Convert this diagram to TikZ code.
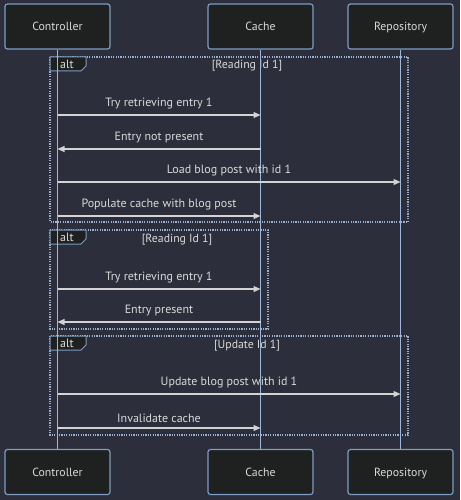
\documentclass[tikz,border=0pt]{standalone}
\usepackage{fontspec}
\setmainfont{PT Sans}
\usetikzlibrary{arrows.meta}
\definecolor{bg}{HTML}{2C2F3B}
\definecolor{boxfill}{HTML}{1F2020}
\definecolor{boxline}{HTML}{7E9CC4}
\definecolor{lifeline}{HTML}{9DB8DC}
\definecolor{txt}{HTML}{D9D9D9}
\definecolor{msgline}{HTML}{D3D3D3}
\definecolor{framecol}{HTML}{9AB0CC}
\begin{document}
\begin{tikzpicture}[x=1pt,y=-1pt,
  actor/.style={draw=boxline,fill=boxfill,line width=1.2pt,rounded corners=2.5pt,
    minimum width=105pt,minimum height=45pt,inner sep=0pt,text=txt,
    text height=8.5pt,text depth=0pt,font=\fontsize{11.8}{13}\selectfont},
  life/.style={draw=lifeline,line width=1.1pt},
  msg/.style={draw=msgline,line width=1.1pt,-{Triangle[length=7pt,width=6pt]}},
  msglabel/.style={text=txt,font=\fontsize{12}{13}\selectfont,inner sep=0pt},
  frame/.style={draw=framecol,line width=1.1pt,dash pattern=on 1.2pt off 1.2pt},
  tab/.style={draw=boxline,fill=boxfill,line width=1pt},
  tablabel/.style={text=txt,font=\fontsize{12}{13}\selectfont,inner sep=0pt},
  cond/.style={text=txt,font=\fontsize{11.8}{13}\selectfont,inner sep=0pt}]
\fill[bg] (0,0) rectangle (460,500);
\useasboundingbox (0,0) rectangle (460,500);
% actors
\node[actor] (c1) at (57.5,26.5) {Controller};
\node[actor] (k1) at (260.5,26.5) {Cache};
\node[actor] (r1) at (400.5,26.5) {Repository};
\node[actor] (c2) at (57.5,472) {Controller};
\node[actor] (k2) at (260.5,472) {Cache};
\node[actor] (r2) at (400.5,472) {Repository};
% row coordinates
\path (0,115) coordinate (y1) (0,149) coordinate (y2) (0,182) coordinate (y3) (0,216) coordinate (y4)
      (0,289) coordinate (y5) (0,322) coordinate (y6) (0,394) coordinate (y7) (0,428) coordinate (y8);
% frames
\draw[frame] (50,57) rectangle (408,222);
\draw[frame] (50,230) rectangle (268,329);
\draw[frame] (50,336) rectangle (408,435);
\foreach \t/\n in {57/a,230/b,336/c}{
  \draw[tab] (50,\t) -- (86,\t) -- (86,\t+9) -- (81,\t+14) -- (50,\t+14) -- cycle;
  \node[tablabel] (tab\n) at (67,\t+7) {alt};
}
\node[cond] (cond1) at (247,66) {[Reading Id 1]};
\node[cond] (cond2) at (177,240) {[Reading Id 1]};
\node[cond] (cond3) at (247,346) {[Update Id 1]};
% lifelines
\draw[life] (c1.south) -- (c2.north);
\draw[life] (k1.south) -- (k2.north);
\draw[life] (r1.south) -- (r2.north);
% messages
\draw[msg] (c1 |- y1) -- node[msglabel,above=5pt] {Try retrieving entry 1} (k1 |- y1);
\draw[msg] (k1 |- y2) -- node[msglabel,above=5pt] {Entry not present} (c1 |- y2);
\draw[msg] (c1 |- y3) -- node[msglabel,above=5pt] {Load blog post with id 1} (r1 |- y3);
\draw[msg] (c1 |- y4) -- node[msglabel,above=5pt] {Populate cache with blog post} (k1 |- y4);
\draw[msg] (c1 |- y5) -- node[msglabel,above=5pt] {Try retrieving entry 1} (k1 |- y5);
\draw[msg] (k1 |- y6) -- node[msglabel,above=5pt] {Entry present} (c1 |- y6);
\draw[msg] (c1 |- y7) -- node[msglabel,above=5pt] {Update blog post with id 1} (r1 |- y7);
\draw[msg] (c1 |- y8) -- node[msglabel,above=5pt] {Invalidate cache} (k1 |- y8);
\end{tikzpicture}
\end{document}
